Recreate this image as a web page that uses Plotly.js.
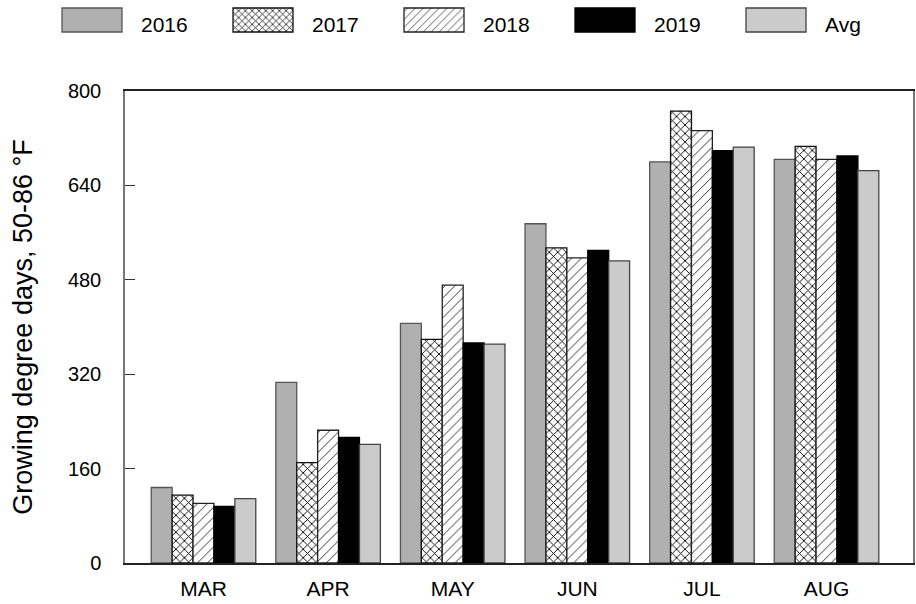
<!DOCTYPE html>
<html>
<head>
<meta charset="utf-8">
<script src="https://cdn.plot.ly/plotly-3.0.1.min.js"></script>
<style>
  html, body { margin: 0; padding: 0; background: #fff; }
  #chart { width: 916px; height: 604px; }
</style>
</head>
<body>
<div id="chart"></div>
<script>
// Monthly growing degree days (50-86 °F) by season
const months = ['MAR', 'APR', 'MAY', 'JUN', 'JUL', 'AUG'];
const gdd2016 = [128, 306, 406, 575, 680, 684];
const gdd2017 = [115, 170, 379, 534, 766, 706];
const gdd2018 = [101, 225, 471, 517, 733, 684];
const gdd2019 = [96, 213, 373, 530, 699, 690];
const gddAvg  = [109, 201, 371, 512, 705, 665];
const yTicks = [0, 160, 320, 480, 640, 800];

const FONT = 'Liberation Sans, Arial, sans-serif';

function barTrace(name, values, fill, outline, pattern) {
  const marker = { color: fill, line: { color: outline, width: 1.3 } };
  if (pattern) marker.pattern = pattern;
  return { type: 'bar', name: name, x: months, y: values, marker: marker, hoverinfo: 'x+y+name' };
}

const traces = [
  barTrace('2016', gdd2016, '#b0b0b0', '#555555'),
  barTrace('2017', gdd2017, '#ffffff', '#111111',
    { shape: 'x', size: 6, solidity: 0.28, fgcolor: '#000000', bgcolor: '#ffffff' }),
  barTrace('2018', gdd2018, '#ffffff', '#222222',
    { shape: '/', size: 7, solidity: 0.14, fgcolor: '#333333', bgcolor: '#ffffff' }),
  barTrace('2019', gdd2019, '#000000', '#000000'),
  barTrace('Avg',  gddAvg,  '#cbcbcb', '#444444')
];

const layout = {
  width: 916,
  height: 604,
  margin: { l: 125, r: 3, t: 91, b: 41, pad: 0 },
  paper_bgcolor: '#ffffff',
  plot_bgcolor: '#ffffff',
  font: { family: FONT, color: '#000000' },
  barmode: 'group',
  bargap: 0.161,
  bargroupgap: 0,
  showlegend: true,
  legend: {
    orientation: 'h',
    x: -0.095, xanchor: 'left',
    y: 1.184, yanchor: 'top',
    font: { family: FONT, size: 21, color: '#000000' },
    entrywidth: 171, entrywidthmode: 'pixels',
    itemwidth: 30,
    traceorder: 'normal',
    bgcolor: 'rgba(0,0,0,0)'
  },
  xaxis: {
    type: 'category',
    range: [-0.63, 5.694],
    showgrid: false,
    zeroline: false,
    showline: true,
    mirror: true,
    linecolor: '#222222',
    linewidth: 1.5,
    ticks: '',
    ticklabelstandoff: 6,
    tickfont: { family: FONT, size: 21, color: '#000000' },
    fixedrange: true
  },
  yaxis: {
    range: [0, 800],
    tickvals: yTicks,
    ticktext: yTicks.map(String),
    showgrid: false,
    zeroline: false,
    showline: true,
    mirror: true,
    linecolor: '#777777',
    linewidth: 1.5,
    ticks: 'inside',
    ticklen: 10,
    tickwidth: 1.2,
    tickcolor: '#333333',
    ticklabelstandoff: 18,
    tickfont: { family: FONT, size: 20, color: '#000000' },
    title: {
      text: 'Growing degree days, 50-86 °F',
      font: { family: FONT, size: 27, color: '#000000' },
      standoff: 27
    },
    automargin: false,
    fixedrange: true
  }
};

// Wide rectangular legend swatches with the label to their right
function styleLegend(gd) {
  const items = gd.querySelectorAll('.legend .traces');
  items.forEach(function (item, i) {
    const left = 62 + 171 * i;
    const path = item.querySelector('.legendpoints path');
    const text = item.querySelector('text.legendtext');
    if (path) {
      const m = path.getScreenCTM();
      const x0 = left - m.e, y0 = 8 - m.f;
      path.setAttribute('d', 'M' + x0 + ',' + y0 + 'h60v24h-60Z');
      path.style.strokeWidth = '1.3px';
    }
    if (text) {
      const m = text.getScreenCTM();
      text.setAttribute('x', left + 79 - m.e);
      text.setAttribute('y', 32 - m.f);
      text.querySelectorAll('tspan').forEach(function (t) {
        t.removeAttribute('x');
      });
    }
  });
}

const gd = document.getElementById('chart');
Plotly.newPlot(gd, traces, layout, { displayModeBar: false }).then(function () {
  styleLegend(gd);
  gd.on('plotly_afterplot', function () { styleLegend(gd); });
});
</script>
</body>
</html>
